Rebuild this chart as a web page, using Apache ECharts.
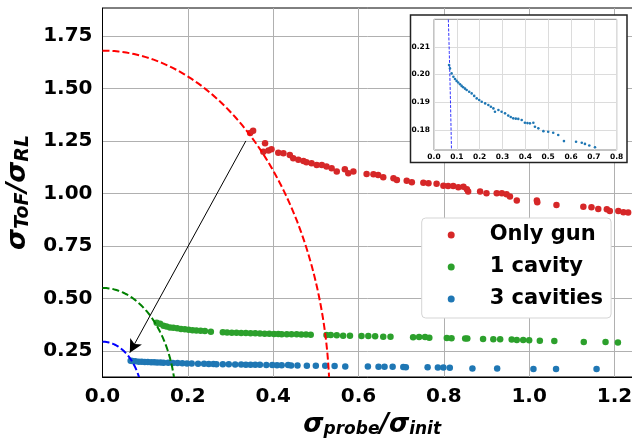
<!DOCTYPE html>
<html>
<head>
<meta charset="utf-8">
<script src="https://cdn.jsdelivr.net/npm/echarts@6/dist/echarts.min.js"></script>
<style>
html, body { margin: 0; padding: 0; background: #fff; }
#main { width: 632px; height: 439px; }
</style>
</head>
<body>
<div id="main"></div>
<script>
// Only gun (red)
var gunX = [0.346, 0.353, 0.381, 0.377, 0.389, 0.396, 0.412, 0.424, 0.439, 0.447, 0.459, 0.471, 0.478, 0.490, 0.502, 0.514, 0.525, 0.537, 0.549,
  0.568, 0.576, 0.588, 0.619, 0.635, 0.646, 0.658, 0.682, 0.690, 0.713, 0.725, 0.752, 0.764, 0.783, 0.799, 0.810, 0.822, 0.834, 0.846, 0.854, 0.857,
  0.885, 0.900, 0.924, 0.936, 0.947, 0.955, 0.971, 1.018, 1.019, 1.064, 1.127, 1.146, 1.162, 1.182, 1.189, 1.209, 1.221, 1.232];
var gunY = [1.288, 1.299, 1.239, 1.199, 1.204, 1.210, 1.194, 1.191, 1.183, 1.168, 1.160, 1.155, 1.149, 1.144, 1.136, 1.136, 1.128, 1.120, 1.104,
  1.115, 1.096, 1.104, 1.093, 1.091, 1.088, 1.077, 1.072, 1.064, 1.060, 1.053, 1.051, 1.048, 1.046, 1.037, 1.036, 1.036, 1.030, 1.032, 1.020, 1.009,
  1.009, 1.001, 1.001, 1.001, 0.996, 0.985, 0.966, 0.966, 0.958, 0.945, 0.937, 0.934, 0.926, 0.925, 0.917, 0.917, 0.910, 0.909];

// 1 cavity (green)
var cav1X = [0.127, 0.135, 0.143, 0.150, 0.158, 0.166, 0.175, 0.184, 0.193, 0.202, 0.211, 0.220, 0.230, 0.240, 0.254,
  0.282, 0.292, 0.303, 0.314, 0.325, 0.336, 0.347, 0.358, 0.369, 0.380, 0.391, 0.402, 0.412, 0.420, 0.432, 0.443, 0.455, 0.466, 0.477, 0.488,
  0.525, 0.535, 0.549, 0.564, 0.580, 0.607, 0.623, 0.639, 0.658, 0.675, 0.728, 0.742, 0.756, 0.766, 0.807, 0.818, 0.850, 0.855,
  0.892, 0.916, 0.932, 0.959, 0.971, 0.986, 1.000, 1.025, 1.059, 1.128, 1.179, 1.208];
var cav1Y = [0.384, 0.379, 0.370, 0.366, 0.362, 0.360, 0.358, 0.355, 0.353, 0.351, 0.349, 0.348, 0.346, 0.345, 0.342,
  0.339, 0.338, 0.337, 0.337, 0.336, 0.335, 0.334, 0.334, 0.333, 0.332, 0.332, 0.331, 0.331, 0.330, 0.330, 0.330, 0.329, 0.328, 0.328, 0.327,
  0.326, 0.326, 0.325, 0.323, 0.323, 0.321, 0.321, 0.320, 0.318, 0.318, 0.315, 0.317, 0.317, 0.313, 0.312, 0.310, 0.309, 0.309,
  0.307, 0.306, 0.306, 0.304, 0.302, 0.302, 0.301, 0.299, 0.298, 0.293, 0.293, 0.290];

// 3 cavities (blue)
var cav3X = [0.066, 0.070, 0.077, 0.085, 0.092, 0.099, 0.106, 0.114, 0.121, 0.128, 0.136, 0.143, 0.154, 0.165, 0.176, 0.187, 0.198, 0.209,
  0.224, 0.238, 0.249, 0.260, 0.267, 0.282, 0.296, 0.311, 0.325, 0.336, 0.347, 0.358, 0.369, 0.384, 0.398, 0.409, 0.420, 0.435, 0.442,
  0.457, 0.479, 0.500, 0.522, 0.544, 0.569, 0.622, 0.647, 0.661, 0.680, 0.705, 0.711, 0.762, 0.786, 0.799, 0.814, 0.867, 0.925, 1.010, 1.063, 1.158];
var cav3Y = [0.2034, 0.2022, 0.2004, 0.1992, 0.1984, 0.1977, 0.1971, 0.1965, 0.1959, 0.1954, 0.1949, 0.1944, 0.1938, 0.1932, 0.1923, 0.1914, 0.1908, 0.1902,
  0.1896, 0.1890, 0.1884, 0.1878, 0.1866, 0.1872, 0.1866, 0.1860, 0.1852, 0.1847, 0.1842, 0.1841, 0.1840, 0.1836, 0.1826, 0.1825, 0.1824, 0.1826, 0.1812,
  0.1806, 0.1796, 0.1794, 0.1790, 0.1782, 0.1760, 0.1758, 0.1754, 0.1750, 0.1744, 0.1738, 0.172, 0.172, 0.171, 0.171, 0.170, 0.167, 0.166, 0.164, 0.164, 0.164];

// fitted dashed quarter-ellipses: semi-axis along x and along y
var curveA = [0.5325, 0.172, 0.0946];
var curveB = [1.68, 0.55, 0.294];

// arrow from the red cloud to the blue one
var arrowFrom = [0.336, 1.25];
var arrowTo = [0.064, 0.242];

var mainYTicks = [0.25, 0.50, 0.75, 1.00, 1.25, 1.50, 1.75];
var insetYTicks = [0.18, 0.19, 0.20, 0.21];

function zip(xs, ys) {
  var out = [];
  for (var i = 0; i < xs.length; i++) out.push([xs[i], ys[i]]);
  return out;
}

var curveColors = ['#ff0000', '#008000', '#0000ff'];
function ellipseItem(lineWidth, dash, colorOf) {
  return function (params, api) {
    var a = api.value(0), b = api.value(1);
    var pts = [];
    for (var k = 0; k <= 90; k++) {
      var t = k / 90 * Math.PI / 2;
      pts.push(api.coord([a * Math.sin(t), b * Math.cos(t)]));
    }
    return {
      type: 'polyline',
      shape: { points: pts },
      style: { stroke: colorOf(params.dataIndex), lineWidth: lineWidth, lineDash: dash, fill: null }
    };
  };
}

var FONT = 'DejaVu Sans';
var chart = echarts.init(document.getElementById('main'), null, { renderer: 'canvas' });

function titleRich(big, small, drop) {
  return {
    s: { fontFamily: FONT, fontWeight: 'bold', fontStyle: 'italic', fontSize: big, color: '#000' },
    b: { fontFamily: FONT, fontWeight: 'bold', fontStyle: 'italic', fontSize: small, color: '#000', padding: [drop, 0, 0, 0] }
  };
}

var option = {
  animation: false,
  backgroundColor: '#fff',
  textStyle: { fontFamily: FONT },
  graphic: {
    elements: [{
      type: 'rect', z: 3,
      shape: { x: 410.5, y: 15, width: 216.5, height: 147.5 },
      style: { fill: '#fff', stroke: '#222', lineWidth: 1.5 }
    }]
  },
  grid: [
    { left: 102.5, top: 8, width: 539.3, height: 369, outerBoundsMode: 'none',
      show: true, borderColor: '#000', borderWidth: 1 },
    { left: 434, top: 19.3, width: 182.7, height: 130.7, outerBoundsMode: 'none',
      show: true, borderColor: '#888', borderWidth: 1, backgroundColor: '#fff', z: 4 }
  ],
  legend: {
    data: ['Only gun', '1 cavity', '3 cavities'],
    orient: 'vertical',
    left: 421.7, top: 218,
    itemWidth: 7, itemHeight: 7, itemGap: 8,
    padding: [5, 8, 7, 26],
    backgroundColor: '#fff', borderColor: '#d5d5d5', borderWidth: 1, borderRadius: 4,
    icon: 'circle',
    textStyle: { fontFamily: FONT, fontWeight: 'bold', fontSize: 21, color: '#000', lineHeight: 24, padding: [0, 0, 0, 30] }
  },
  xAxis: [
    {
      type: 'value', gridIndex: 0, min: 0, max: 1.264, interval: 0.2,
      axisLine: { lineStyle: { color: '#000', width: 1 } },
      axisTick: { show: false },
      splitLine: { lineStyle: { color: '#b0b0b0', width: 1 } },
      axisLabel: { fontFamily: FONT, fontWeight: 'bold', fontSize: 20, color: '#000', margin: 10,
        formatter: function (v) { return v.toFixed(1); } },
      name: '{s|σ}{b|probe}{s|/σ}{b|init}',
      nameLocation: 'middle', nameGap: 29,
      nameTextStyle: { rich: titleRich(26, 17, 10) }
    },
    {
      type: 'value', gridIndex: 1, min: 0, max: 0.8, interval: 0.1, z: 4,
      axisLine: { show: false },
      axisTick: { show: false },
      splitLine: { lineStyle: { color: '#dcdcdc', width: 1 } },
      axisLabel: { fontFamily: FONT, fontWeight: 'bold', fontSize: 7.5, color: '#000', margin: 3,
        formatter: function (v) { return v.toFixed(1); } }
    }
  ],
  yAxis: [
    {
      type: 'value', gridIndex: 0, min: 0.126, max: 1.883,
      axisLine: { lineStyle: { color: '#000', width: 1 } },
      axisTick: { show: false, customValues: mainYTicks },
      splitLine: { lineStyle: { color: '#b0b0b0', width: 1 } },
      axisLabel: { customValues: mainYTicks, fontFamily: FONT, fontWeight: 'bold', fontSize: 20, color: '#000', margin: 10,
        formatter: function (v) { return v.toFixed(2); } },
      name: '{s|σ}{b|ToF}{s|/σ}{b|RL}',
      nameLocation: 'middle', nameGap: 46, nameRotate: 90,
      nameTextStyle: { rich: titleRich(27, 19, 10) }
    },
    {
      type: 'value', gridIndex: 1, min: 0.1728, max: 0.2199, z: 4,
      axisLine: { show: false },
      axisTick: { show: false, customValues: insetYTicks },
      splitLine: { lineStyle: { color: '#dcdcdc', width: 1 } },
      axisLabel: { customValues: insetYTicks, fontFamily: FONT, fontWeight: 'bold', fontSize: 7.5, color: '#000', margin: 4,
        formatter: function (v) { return v.toFixed(2); } }
    }
  ],
  series: [
    { name: 'Only gun', type: 'scatter', xAxisIndex: 0, yAxisIndex: 0, symbolSize: 6.5,
      itemStyle: { color: '#d62728', opacity: 1 }, data: zip(gunX, gunY) },
    { name: '1 cavity', type: 'scatter', xAxisIndex: 0, yAxisIndex: 0, symbolSize: 6.5,
      itemStyle: { color: '#2ca02c', opacity: 1 }, data: zip(cav1X, cav1Y) },
    { name: '3 cavities', type: 'scatter', xAxisIndex: 0, yAxisIndex: 0, symbolSize: 6.5,
      itemStyle: { color: '#1f77b4', opacity: 1 }, data: zip(cav3X, cav3Y) },
    { name: 'fits', type: 'custom', xAxisIndex: 0, yAxisIndex: 0, clip: true, silent: true, z: 3,
      renderItem: ellipseItem(2, [7, 3], function (i) { return curveColors[i]; }),
      data: zip(curveA, curveB) },
    { name: 'arrow', type: 'line', xAxisIndex: 0, yAxisIndex: 0, data: [], silent: true,
      markLine: {
        silent: true, symbol: ['none', 'arrow'], symbolSize: [10, 13],
        label: { show: false },
        lineStyle: { color: '#000', width: 1, type: 'solid' },
        data: [[{ coord: arrowFrom }, { coord: arrowTo }]]
      } },
    { name: 'inset', type: 'scatter', xAxisIndex: 1, yAxisIndex: 1, symbolSize: 2.6, z: 6, clip: true,
      itemStyle: { color: '#1f77b4', opacity: 1 }, data: zip(cav3X, cav3Y) },
    { name: 'inset fit', type: 'custom', xAxisIndex: 1, yAxisIndex: 1, clip: true, silent: true, z: 6,
      renderItem: ellipseItem(0.8, [3, 1.5], function () { return '#0000ff'; }),
      data: [[curveA[2], curveB[2]]] }
  ]
};
chart.setOption(option);
</script>
</body>
</html>
